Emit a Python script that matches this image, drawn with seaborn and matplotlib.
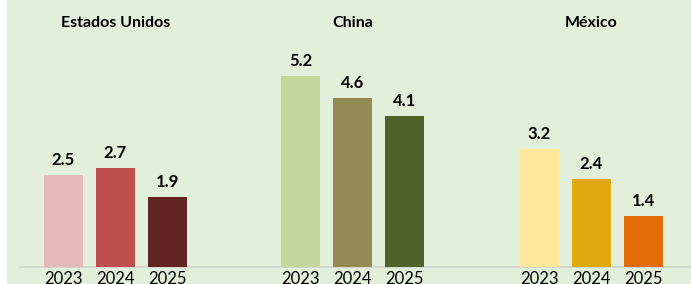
import matplotlib.pyplot as plt
import seaborn as sns
from matplotlib.patches import Rectangle
from matplotlib.lines import Line2D

sns.set_style('white')
plt.rcParams['font.family'] = ['Lato', 'DejaVu Sans']
plt.rcParams['text.color'] = 'black'
plt.rcParams['xtick.color'] = 'black'

paises = ['Estados Unidos', 'China', 'México']
anios = ['2023', '2024', '2025']
eeuu = [2.5, 2.7, 1.9]
china = [5.2, 4.6, 4.1]
mexico = [3.2, 2.4, 1.4]

colores_eeuu = ['#E6B8B7', '#C0504D', '#632523']
colores_china = ['#C4D79B', '#948A54', '#4F6228']
colores_mexico = ['#FFE699', '#E1A90D', '#E36C09']

W, H = 691, 284
fig = plt.figure(figsize=(W / 100, H / 100), dpi=100)
fig.patch.set_facecolor('white')
# fondo verde con una franja blanca a la izquierda
fig.patches.append(Rectangle((7 / W, 0), 1 - 7 / W, 1, transform=fig.transFigure,
                             color='#E2EFDA', zorder=-1))
# linea base comun
fig.add_artist(Line2D([20 / W, 1], [17 / H, 17 / H], color='#D4D9D0', lw=1.5, zorder=-0.5))

grupos = [
    (paises[0], eeuu, colores_eeuu, 37.5),
    (paises[1], china, colores_china, 274.5),
    (paises[2], mexico, colores_mexico, 513),
]

for pais, valores, colores, izq in grupos:
    ax = fig.add_axes([izq / W, 17 / H, 156 / W, 239 / H])
    ax.patch.set_visible(False)
    sns.barplot(x=anios, y=valores, hue=anios, palette=colores, legend=False,
                width=0.75, saturation=1, linewidth=0, ax=ax)
    for c in ax.containers:
        ax.bar_label(c, fmt='%.1f', padding=5, fontweight='bold', fontsize=12,
                     color='black')
    ax.set_ylim(0, 6.5)
    ax.set_xlim(-0.5, 2.5)
    ax.set_title(pais, fontweight='bold', fontsize=11.5, pad=1, color='black')
    ax.set_xlabel('')
    ax.set_ylabel('')
    ax.set_yticks([])
    ax.tick_params(axis='x', length=0, pad=3, labelsize=12, labelcolor='black')
    sns.despine(ax=ax, left=True, bottom=True)

fig.savefig('out.png', dpi=100)
